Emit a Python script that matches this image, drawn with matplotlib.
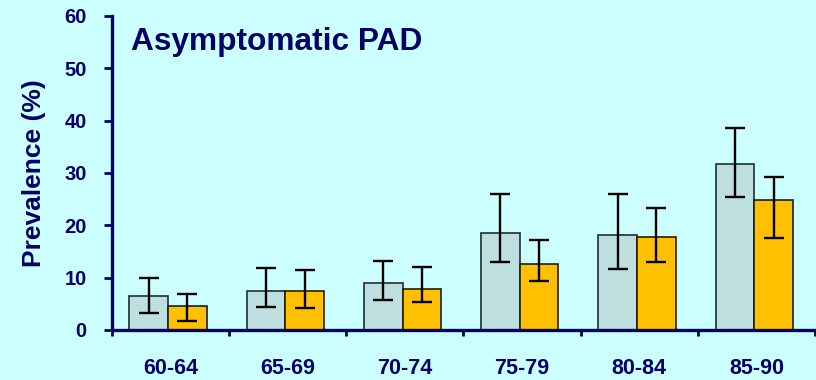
import matplotlib
matplotlib.use("Agg")
import matplotlib.pyplot as plt
import numpy as np

# Prevalence of asymptomatic PAD by age group, two cohorts
age_groups = ["60-64", "65-69", "70-74", "75-79", "80-84", "85-90"]
grey_vals = [6.4, 7.5, 8.9, 18.5, 18.1, 31.7]
grey_lo = [3.3, 4.4, 5.7, 12.9, 11.7, 25.4]
grey_hi = [10.0, 11.8, 13.1, 26.0, 25.9, 38.6]
gold_vals = [4.5, 7.5, 7.9, 12.6, 17.8, 24.8]
gold_lo = [1.7, 4.2, 5.3, 9.4, 13.0, 17.5]
gold_hi = [6.9, 11.5, 12.0, 17.1, 23.2, 29.3]
y_ticks = [0, 10, 20, 30, 40, 50, 60]

navy = "#000066"
bg = "#CCFFFF"
plt.rcParams["font.family"] = ["Liberation Sans", "DejaVu Sans"]
plt.rcParams["font.weight"] = "bold"

fig = plt.figure(figsize=(8.16, 3.8), dpi=100, facecolor=bg)
ax = fig.add_axes([0.137, 0.132, 0.862, 0.826])
ax.set_facecolor(bg)

x = np.arange(len(age_groups))
w = 0.33
off = -0.02

def yerr(vals, lo, hi):
    v = np.array(vals)
    return np.vstack([v - np.array(lo), np.array(hi) - v])

ax.bar(x + off - w / 2, grey_vals, width=w, color="#BDDFE0", edgecolor="#1F2F2F",
       linewidth=1.2, zorder=2)
ax.bar(x + off + w / 2, gold_vals, width=w, color="#FFC000", edgecolor="#1F1F10",
       linewidth=1.2, zorder=2)
ax.errorbar(x + off - w / 2, grey_vals, yerr=yerr(grey_vals, grey_lo, grey_hi),
            fmt="none", ecolor="black", elinewidth=1.7, capsize=7.5, capthick=1.7, zorder=3)
ax.errorbar(x + off + w / 2, gold_vals, yerr=yerr(gold_vals, gold_lo, gold_hi),
            fmt="none", ecolor="black", elinewidth=1.7, capsize=7.5, capthick=1.7, zorder=3)

ax.set_xlim(-0.5, 5.5)
ax.set_ylim(0, 60)
for s in ["top", "right"]:
    ax.spines[s].set_visible(False)
for s in ["left", "bottom"]:
    ax.spines[s].set_color(navy)
    ax.spines[s].set_linewidth(2.4)

ax.set_yticks(y_ticks)
ax.set_yticklabels([str(t) for t in y_ticks])
ax.tick_params(axis="y", direction="out", length=6, width=2, color=navy,
               labelcolor=navy, labelsize=14.5, pad=12)

ax.set_xticks(np.arange(-0.5, 6.0, 1.0), minor=False)
ax.set_xticklabels([""] * 7)
ax.set_xticks(x, minor=True)
ax.set_xticklabels(age_groups, minor=True)
ax.tick_params(axis="x", which="major", direction="out", length=4, width=2, color=navy)
ax.tick_params(axis="x", which="minor", length=0, labelcolor=navy, labelsize=15.5, pad=20)

ax.set_ylabel("Prevalence (%)", color=navy, fontsize=19, fontweight="bold", labelpad=13)

ax.text(0.028, 0.965, "Asymptomatic PAD", transform=ax.transAxes, color=navy,
        fontsize=22.8, fontweight="bold", va="top", ha="left")

fig.savefig("out.png", dpi=100, facecolor=bg)
